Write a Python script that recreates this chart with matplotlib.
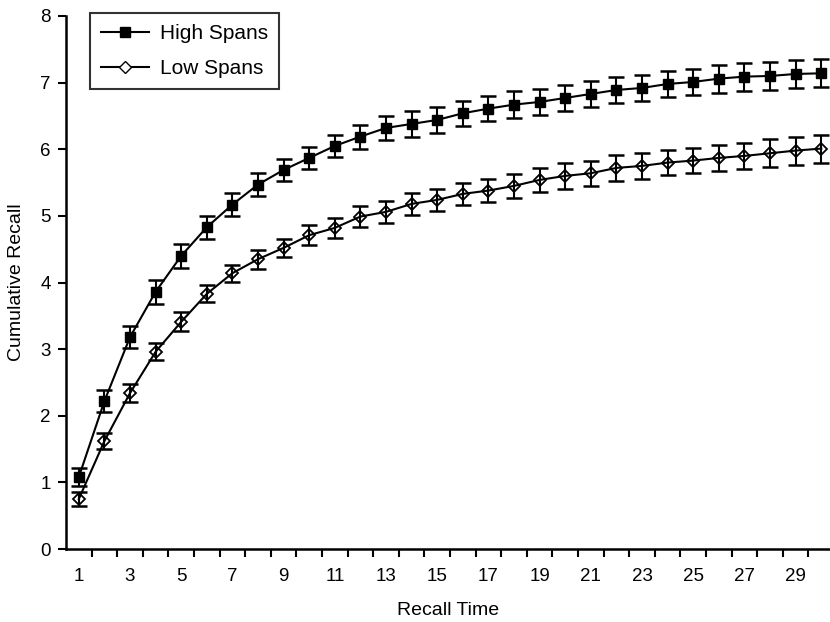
import matplotlib
matplotlib.use("Agg")
import matplotlib.pyplot as plt
import numpy as np
from matplotlib.lines import Line2D

recall_time = list(range(1, 31))
high_spans = [1.08, 2.22, 3.18, 3.86, 4.40, 4.83, 5.17, 5.47, 5.69, 5.87,
              6.05, 6.19, 6.32, 6.38, 6.44, 6.54, 6.61, 6.67, 6.71, 6.77,
              6.83, 6.89, 6.92, 6.98, 7.01, 7.06, 7.09, 7.10, 7.13, 7.14]
high_err = [0.13, 0.16, 0.17, 0.18, 0.18, 0.17, 0.17, 0.17, 0.17, 0.17,
            0.17, 0.18, 0.18, 0.19, 0.19, 0.19, 0.19, 0.20, 0.20, 0.20,
            0.20, 0.20, 0.20, 0.20, 0.20, 0.21, 0.21, 0.21, 0.21, 0.21]
low_spans = [0.75, 1.62, 2.34, 2.96, 3.41, 3.83, 4.14, 4.35, 4.52, 4.71,
             4.82, 4.99, 5.06, 5.18, 5.24, 5.33, 5.38, 5.45, 5.54, 5.60,
             5.64, 5.72, 5.75, 5.80, 5.83, 5.87, 5.90, 5.94, 5.98, 6.01]
low_err = [0.10, 0.12, 0.13, 0.13, 0.14, 0.13, 0.13, 0.14, 0.14, 0.15,
           0.15, 0.16, 0.16, 0.17, 0.17, 0.17, 0.17, 0.18, 0.18, 0.19,
           0.19, 0.19, 0.19, 0.19, 0.19, 0.20, 0.20, 0.21, 0.21, 0.21]
x_tick_labels = [str(v) for v in range(1, 30, 2)]
y_ticks = list(range(0, 9))

plt.rcParams['font.family'] = ['Liberation Sans', 'DejaVu Sans']

fig = plt.figure(figsize=(8.3, 6.22), dpi=100)
ax = fig.add_axes([66/830, (622-549)/622, 1 - 66/830, (549-16)/622])

x = np.array(recall_time)

# High spans
ax.errorbar(x, high_spans, yerr=high_err, fmt='-', color='black', lw=1.5,
            elinewidth=1.5, capsize=6, capthick=1.8, zorder=3)
ax.plot(x, high_spans, 's', color='black', ms=7.5, zorder=4)

# Low spans: diamond below line so the line/bar cross it
ax.plot(x, low_spans, 'D', mfc='white', mec='black', mew=1.3, ms=6.5, zorder=2)
ax.errorbar(x, low_spans, yerr=low_err, fmt='-', color='black', lw=1.5,
            elinewidth=1.5, capsize=6, capthick=1.8, zorder=3)

ax.set_xlim(0.5, 30.34)
ax.set_ylim(0, 8)

ax.set_xticks(list(range(1, 30, 2)))
ax.set_xticklabels(x_tick_labels, fontsize=13.5)
ax.set_xticks(np.arange(1.5, 30, 1.0), minor=True)
ax.tick_params(axis='x', which='major', length=0, pad=14)
ax.tick_params(axis='x', which='minor', length=6, width=1.5, direction='out')

ax.set_yticks(y_ticks)
ax.set_yticklabels([str(v) for v in y_ticks], fontsize=13.5)
ax.tick_params(axis='y', which='major', length=6, width=1.5, direction='out', pad=5)

for s in ['top', 'right']:
    ax.spines[s].set_visible(False)
for s in ['left', 'bottom']:
    ax.spines[s].set_linewidth(1.8)

ax.set_xlabel('Recall Time', fontsize=14, labelpad=12)
ax.set_ylabel('Cumulative Recall', fontsize=14, labelpad=11)

h1 = Line2D([], [], color='black', lw=1.5, marker='s', ms=7.5)
h2 = Line2D([], [], color='black', lw=1.5, marker='D', mfc='white', mec='black', ms=6.5)
leg = ax.legend([h1, h2], ['High Spans', 'Low Spans'], loc='upper left',
                bbox_to_anchor=(24/764, 1.006), borderaxespad=0, fontsize=15,
                frameon=True, fancybox=False, edgecolor='black', handlelength=2.3,
                borderpad=0.55, labelspacing=0.75, handletextpad=0.5)
leg.get_frame().set_linewidth(1.5)

fig.savefig('out.png', dpi=100)
